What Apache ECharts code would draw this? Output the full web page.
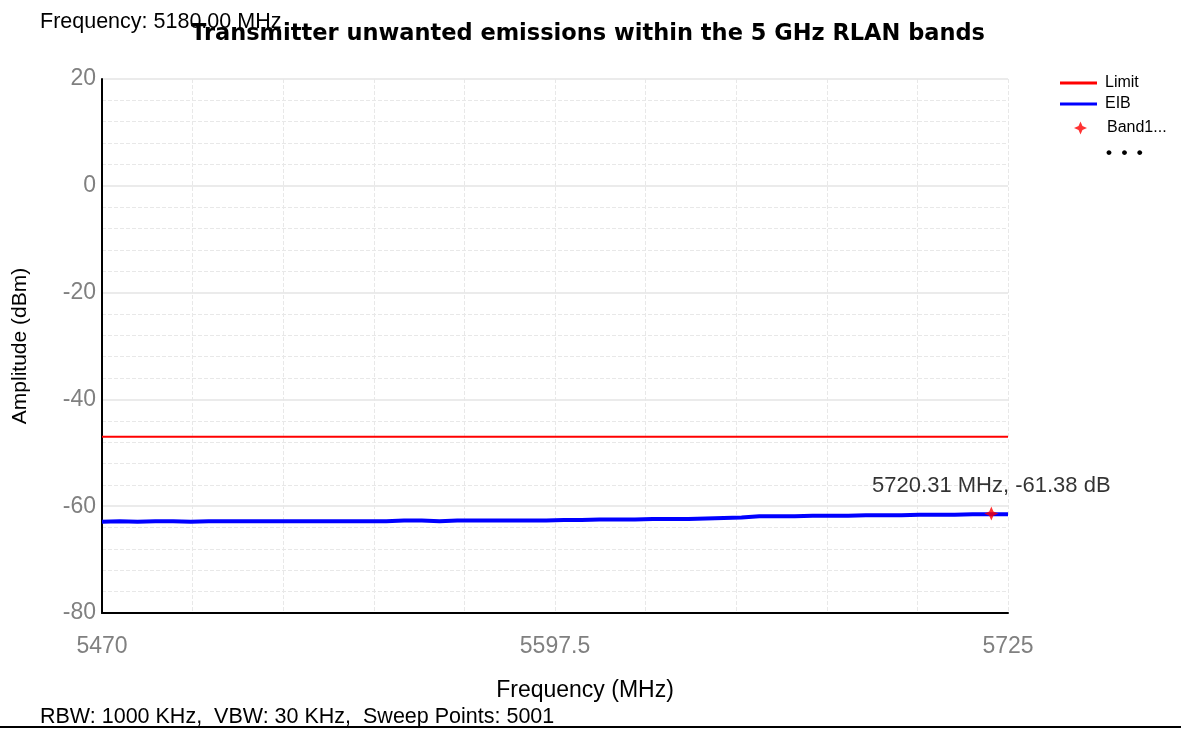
<!DOCTYPE html>
<html lang="en">
<head>
    <meta charset="UTF-8">
    <title>emissions</title>
    <script src="https://cdn.jsdelivr.net/npm/echarts@6/dist/echarts.min.js"></script>
    <style>
        html, body { margin: 0; padding: 0; background: #fff; }
        #chart { width: 1181px; height: 729px; }
    </style>
</head>
<body>
<div id="chart"></div>
<script type="text/javascript">
    // frequency samples (MHz) and EIB amplitude (dBm)
    let freqs = [5470, 5475, 5480, 5485, 5490, 5495, 5500, 5505, 5510, 5515,
        5520, 5525, 5530, 5535, 5540, 5545, 5550, 5555, 5560, 5565,
        5570, 5575, 5580, 5585, 5590, 5595, 5600, 5605, 5610, 5615,
        5620, 5625, 5630, 5635, 5640, 5645, 5650, 5655, 5660, 5665,
        5670, 5675, 5680, 5685, 5690, 5695, 5700, 5705, 5710, 5715,
        5720, 5725];
    let eib = [-62.9, -62.8, -62.9, -62.8, -62.8, -62.9, -62.8, -62.8, -62.8, -62.8,
        -62.8, -62.8, -62.8, -62.8, -62.8, -62.8, -62.8, -62.7, -62.7, -62.8,
        -62.7, -62.7, -62.7, -62.7, -62.7, -62.7, -62.6, -62.6, -62.5, -62.5,
        -62.5, -62.4, -62.4, -62.4, -62.3, -62.2, -62.1, -61.9, -61.9, -61.9,
        -61.8, -61.8, -61.8, -61.7, -61.7, -61.7, -61.6, -61.6, -61.6, -61.5,
        -61.5, -61.5];
    let limitFreqs = [5470, 5725];
    let limitVals = [-47, -47];
    let peak = [5720.31, -61.38];
    let xTicks = [5470, 5597.5, 5725];
    let yTicks = [-80, -60, -40, -20, 0, 20];

    let labelFont = 'Liberation Sans, Arial, sans-serif';

    let star = 'path://M0,-10 L3,-3 L10,0 L3,3 L0,10 L-3,3 L-10,0 L-3,-3 Z';

    function legendRow(name, left, top, icon, h) {
        return {
            orient: 'vertical',
            left: left,
            top: top,
            padding: 0,
            itemWidth: 37,
            itemHeight: h,
            icon: icon,
            textStyle: { fontFamily: labelFont, fontSize: 16, color: '#000', padding: [0, 0, 0, 3] },
            data: [name]
        };
    }

    let option = {
        animation: false,
        backgroundColor: '#fff',
        title: {
            text: 'Transmitter unwanted emissions within the 5 GHz RLAN bands',
            left: 186,
            top: 18,
            textStyle: { fontFamily: 'DejaVu Sans, sans-serif', fontSize: 22.5, fontWeight: 'bold', color: '#000' }
        },
        legend: [
            legendRow('Limit', 1060, 75, 'rect', 3),
            legendRow('EIB', 1060, 96, 'rect', 3),
            legendRow('Band1...', 1074, 120, star, 13)
        ],
        grid: { left: 102, right: 173, top: 79, bottom: 116, outerBoundsMode: 'none', containLabel: false },
        xAxis: {
            type: 'value',
            min: xTicks[0],
            max: xTicks[2],
            interval: xTicks[1] - xTicks[0],
            axisLine: { onZero: false, lineStyle: { color: '#000', width: 2 } },
            axisTick: { show: false },
            axisLabel: {
                fontFamily: labelFont, fontSize: 23, color: '#808080', margin: 22,
                formatter: function (v) { return String(v); }
            },
            splitLine: { show: true, lineStyle: { color: '#e8e8e8', type: 'dashed', width: 1 } },
            minorTick: { show: false, splitNumber: 5 },
            minorSplitLine: { show: true, lineStyle: { color: '#e8e8e8', type: 'dashed', width: 1 } }
        },
        yAxis: {
            type: 'value',
            min: yTicks[0],
            max: yTicks[yTicks.length - 1],
            interval: 20,
            name: 'Amplitude (dBm)',
            nameLocation: 'middle',
            nameGap: 71,
            nameTextStyle: { fontFamily: labelFont, fontSize: 21, color: '#000' },
            axisLine: { onZero: false, lineStyle: { color: '#000', width: 2 } },
            axisTick: { show: false },
            axisLabel: { fontFamily: labelFont, fontSize: 23, color: '#808080', margin: 6 },
            splitLine: { show: true, lineStyle: { color: '#ebebeb', width: 2 } },
            minorTick: { show: false, splitNumber: 5 },
            minorSplitLine: { show: true, lineStyle: { color: '#e8e8e8', type: 'dashed', width: 1 } }
        },
        graphic: [
            {
                type: 'text', left: 40, top: 11, z: 0,
                style: { text: 'Frequency: 5180.00 MHz', font: '21.5px ' + labelFont, fill: '#000' }
            },
            {
                type: 'text', x: 585, y: 691,
                style: { text: 'Frequency (MHz)', font: '23px ' + labelFont, fill: '#000', align: 'center', verticalAlign: 'middle' }
            },
            {
                type: 'text', left: 40, top: 706,
                style: { text: 'RBW: 1000 KHz,  VBW: 30 KHz,  Sweep Points: 5001', font: '21.5px ' + labelFont, fill: '#000' }
            },
            {
                type: 'text', left: 1106, top: 145,
                style: { text: '•  •  •', font: 'bold 17px ' + labelFont, fill: '#000' }
            },
            {
                type: 'line', shape: { x1: 0, y1: 727, x2: 1181, y2: 727 },
                style: { stroke: '#000', lineWidth: 2 }
            }
        ],
        series: [
            {
                name: 'Limit',
                type: 'line',
                symbol: 'none',
                color: '#ff0000',
                lineStyle: { width: 2, color: '#ff0000' },
                data: limitFreqs.map(function (f, i) { return [f, limitVals[i]]; })
            },
            {
                name: 'EIB',
                type: 'line',
                symbol: 'none',
                color: '#0000ff',
                lineStyle: { width: 4, color: '#0000ff' },
                data: freqs.map(function (f, i) { return [f, eib[i]]; })
            },
            {
                name: 'Band1...',
                type: 'scatter',
                symbol: star,
                symbolSize: 14,
                color: '#ff0000',
                itemStyle: { color: '#ff0000' },
                z: 5,
                label: {
                    show: true,
                    position: 'top',
                    distance: 10,
                    fontFamily: labelFont,
                    fontSize: 22,
                    color: '#000',
                    formatter: function (p) {
                        return p.value[0].toFixed(2) + ' MHz, ' + p.value[1].toFixed(2) + ' dB';
                    }
                },
                data: [peak]
            }
        ]
    };

    let myChart = echarts.init(document.getElementById('chart'));
    myChart.setOption(option);
</script>
</body>
</html>
